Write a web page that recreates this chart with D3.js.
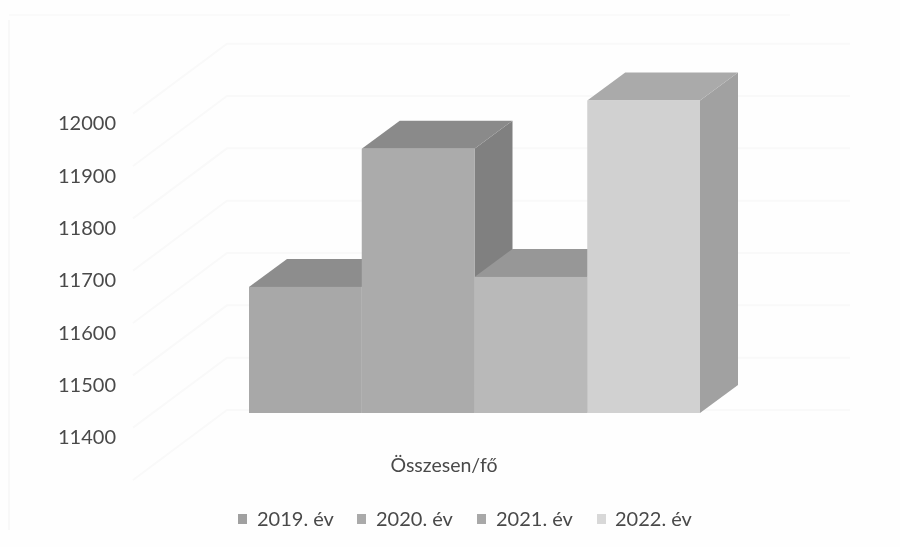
<!DOCTYPE html>
<html><head><meta charset="utf-8">
<script src="https://cdn.jsdelivr.net/npm/d3@7"></script>
<style>html,body{margin:0;background:#fefefe}svg{display:block}text{font-family:Lato,sans-serif;fill:#4a4a4a}</style>
</head><body><svg id="c" width="900" height="547"></svg>
<script>
const categories = ["2019. év","2020. év","2021. év","2022. év"];
const values = [11641,11905,11660,11997];
const tickLabels = [11400,11500,11600,11700,11800,11900,12000];
const gridValues = [11400,11500,11600,11700,11800,11900,12000,12100];
const frontColors = ["#a8a8a8","#ababab","#b9b9b9","#d1d1d1"];
const topColors = ["#8d8d8d","#8a8a8a","#979797","#aaaaaa"];
const sideColors = ["#828282","#808080","#8f8f8f","#a1a1a1"];
const swatchColors = ["#a0a0a0","#aaaaaa","#a8a8a8","#d8d8d8"];
const legendSwatchX = [238,357,477,597];
const legendTextX = [257,376,496,615];
const depthX = 38, depthY = 28;

const svg = d3.select("#c");
const x = d3.scaleBand().domain(categories).range([249,700]).padding(0);
const y = d3.scaleLinear().domain([11400,12000]).range([413,99]);

const defs = svg.append("defs");
defs.append("filter").attr("id","soft").append("feGaussianBlur").attr("stdDeviation",0.6);
defs.append("filter").attr("id","softText").append("feGaussianBlur").attr("stdDeviation",0.35);

// faint frame and back wall remnants
svg.append("path").attr("d","M9 20V530").attr("stroke","#f8f8f8").attr("stroke-width",2).attr("fill","none");
svg.append("path").attr("d","M9 15H790").attr("stroke","#fafafa").attr("stroke-width",2).attr("fill","none");
const grid = svg.append("g").attr("stroke","#f9f9f9").attr("stroke-width",2).attr("fill","none");
grid.selectAll("path").data(gridValues).join("path")
  .attr("d",v=>`M133 ${y(v)+67}L227 ${y(v)-3}H850`);

// axis
const axis = d3.axisLeft(y).tickValues(tickLabels).tickFormat(d3.format("d")).tickSize(0).tickPadding(0);
const ag = svg.append("g").attr("transform","translate(116,24.5)").attr("filter","url(#softText)").call(axis);
ag.select(".domain").remove();
ag.selectAll("text").attr("font-size",20).style("font-family","Lato,sans-serif").attr("fill","#4a4a4a");

// bars
const data = categories.map((c,i)=>({c,v:values[i],i}));
const bars = svg.append("g").attr("filter","url(#soft)").selectAll("g").data(data).join("g");
bars.append("path").attr("fill",d=>sideColors[d.i]).attr("d",d=>{
  const r=x(d.c)+x.bandwidth(),t=y(d.v),b=y.range()[0];
  return `M${r} ${t}L${r+depthX} ${t-depthY}V${b-depthY}L${r} ${b}Z`;});
bars.append("path").attr("fill",d=>topColors[d.i]).attr("d",d=>{
  const l=x(d.c),r=l+x.bandwidth(),t=y(d.v);
  return `M${l} ${t}L${l+depthX} ${t-depthY}H${r+depthX}L${r} ${t}Z`;});
bars.append("rect").attr("fill",d=>frontColors[d.i])
  .attr("x",d=>x(d.c)).attr("width",x.bandwidth())
  .attr("y",d=>y(d.v)).attr("height",d=>y.range()[0]-y(d.v));

// axis title
svg.append("text").attr("x",444).attr("y",472).attr("text-anchor","middle").attr("font-size",19.5).attr("filter","url(#softText)").text("Összesen/fő");

// legend
const lg = svg.append("g").selectAll("g").data(data).join("g");
lg.append("rect").attr("x",d=>legendSwatchX[d.i]).attr("y",514).attr("width",9).attr("height",10)
  .attr("fill",d=>swatchColors[d.i]).attr("filter","url(#soft)");
lg.append("text").attr("x",d=>legendTextX[d.i]).attr("y",526).attr("font-size",20).attr("filter","url(#softText)").text(d=>d.c);
</script></body></html>
